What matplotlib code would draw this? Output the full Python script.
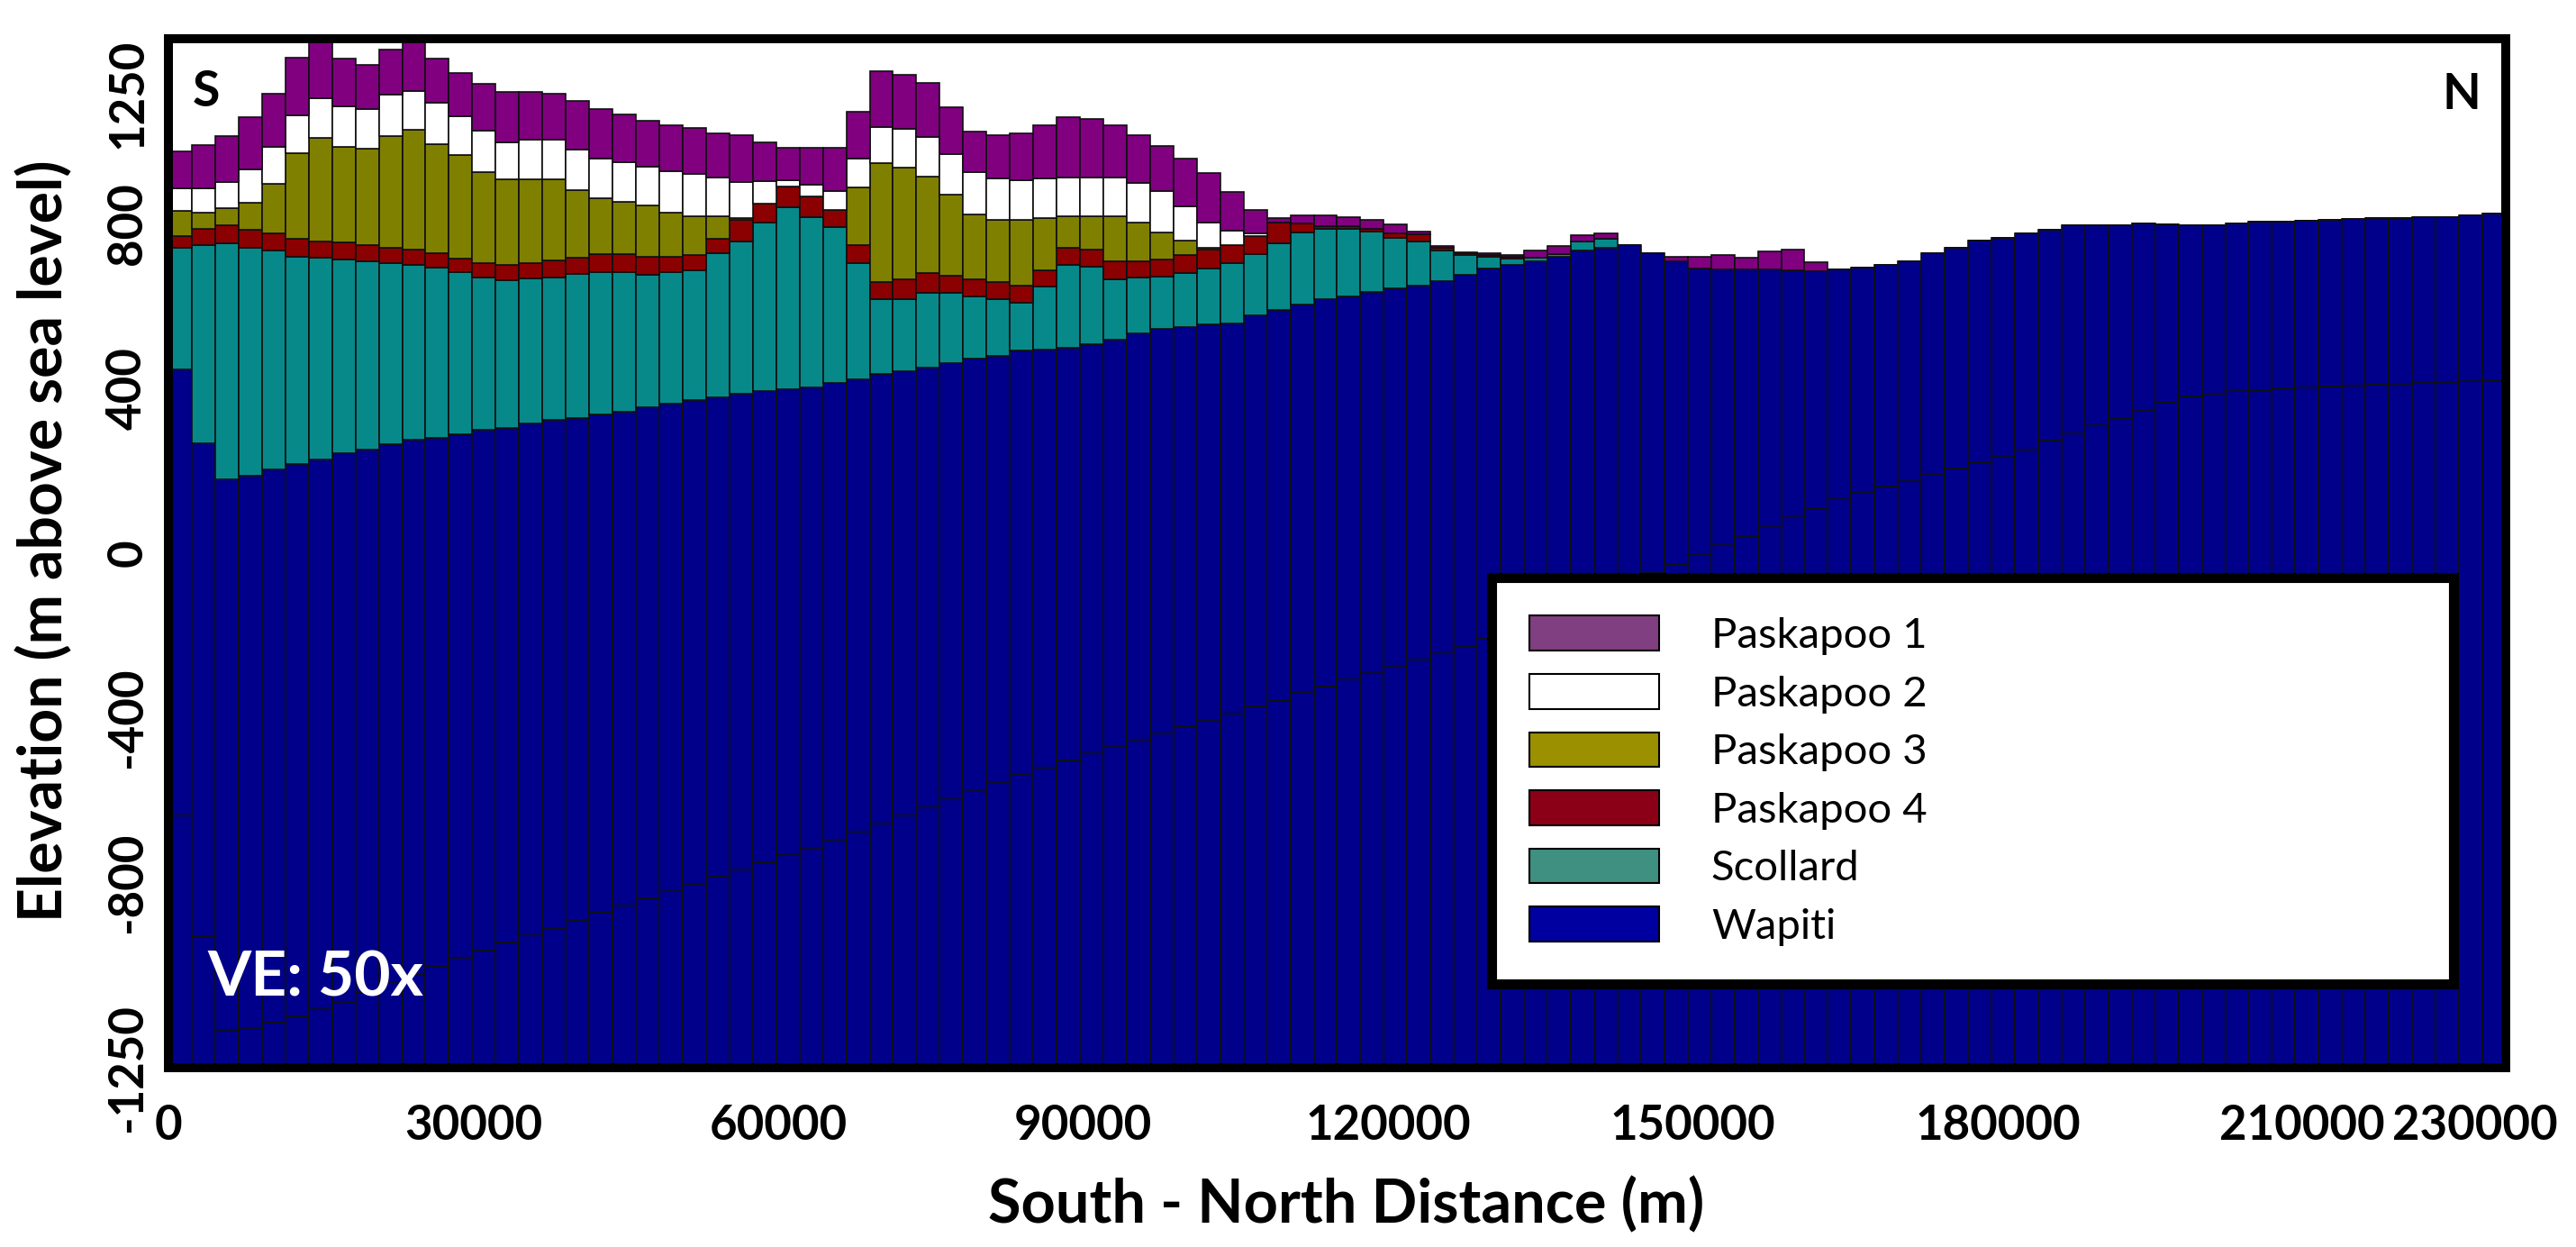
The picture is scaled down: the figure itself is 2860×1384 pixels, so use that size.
import matplotlib
matplotlib.use('Agg')
import matplotlib.pyplot as plt
from matplotlib.patches import Patch
from matplotlib.transforms import ScaledTranslation
import numpy as np

plt.rcParams['font.family'] = ['Lato', 'DejaVu Sans']

# one bar every 2300 m along the section, 100 bars
bar_width = 2300
distance = np.arange(100) * bar_width + bar_width / 2

# elevations (m asl) of each surface
wapiti_base = [-636, -930, -1160, -1155, -1140, -1125, -1108, -1090, -1068, -1045,
               -1025, -1004, -982, -965, -946, -928, -910, -892, -873, -855,
               -838, -820, -803, -785, -768, -750, -733, -715, -697, -677,
               -657, -637, -617, -598, -578, -559, -539, -520, -503, -487,
               -470, -454, -437, -421, -405, -389, -373, -356, -340, -324,
               -307, -291, -274, -258, -242, -225, -208, -186, -163, -140,
               -117, -95, -72, -49, -27, -4, 19, 42, 64, 87,
               110, 132, 146, 161, 176, 191, 206, 221, 236, 251,
               274, 292, 311, 329, 347, 365, 380, 388, 393, 397,
               400, 403, 405, 408, 410, 412, 415, 417, 419, 421]

wapiti_top = [446, 267, 179, 188, 203, 217, 227, 243, 252, 265,
              276, 281, 290, 300, 305, 316, 324, 329, 338, 344,
              355, 363, 373, 379, 388, 393, 398, 402, 413, 422,
              436, 442, 451, 461, 472, 480, 493, 495, 499, 508,
              519, 534, 545, 550, 556, 559, 577, 592, 605, 618,
              625, 636, 643, 651, 662, 676, 691, 700, 709, 720,
              735, 742, 748, 729, 709, 692, 689, 689, 689, 687,
              685, 689, 694, 700, 709, 729, 743, 759, 767, 778,
              787, 796, 797, 798, 802, 799, 798, 798, 802, 806,
              806, 808, 811, 813, 815, 815, 816, 817, 821, 826]

scollard_top = [742, 748, 753, 743, 735, 721, 718, 714, 709, 704,
                700, 694, 683, 670, 663, 667, 669, 678, 682, 682,
                676, 682, 687, 729, 758, 804, 841, 817, 793, 705,
                618, 618, 632, 632, 625, 618, 609, 647, 700, 696,
                665, 669, 672, 681, 691, 705, 727, 753, 780, 789,
                789, 782, 767, 757, 735, 725, 720, 716, 719, 727,
                757, 764, 748, 729, 709, 692, 689, 689, 689, 687,
                685, 689, 694, 700, 709, 729, 743, 759, 767, 778,
                787, 796, 797, 798, 802, 799, 798, 798, 802, 806,
                806, 808, 811, 813, 815, 815, 816, 817, 821, 826]

p4_top = [771, 789, 797, 786, 778, 764, 758, 755, 748, 742,
          738, 729, 716, 705, 700, 705, 711, 719, 726, 726,
          720, 721, 724, 764, 809, 849, 890, 866, 835, 748,
          659, 665, 680, 675, 665, 659, 651, 687, 742, 738,
          709, 709, 713, 724, 738, 748, 771, 804, 802, 795,
          794, 789, 778, 775, 742, 728, 724, 720, 719, 727,
          757, 764, 748, 729, 709, 692, 689, 689, 689, 687,
          685, 689, 694, 700, 709, 729, 743, 759, 767, 778,
          787, 796, 797, 798, 802, 799, 798, 798, 802, 806,
          806, 808, 811, 813, 815, 815, 816, 817, 821, 826]

p3_top = [833, 828, 839, 852, 897, 971, 1009, 987, 983, 1014,
          1028, 994, 967, 926, 908, 908, 908, 882, 863, 853,
          844, 828, 819, 819, 815, 849, 890, 866, 835, 888,
          947, 936, 916, 872, 824, 811, 809, 815, 819, 819,
          819, 804, 780, 760, 743, 748, 771, 804, 802, 795,
          794, 789, 778, 775, 742, 728, 724, 720, 719, 727,
          757, 764, 748, 729, 709, 692, 689, 689, 689, 687,
          685, 689, 694, 700, 709, 729, 743, 759, 767, 778,
          787, 796, 797, 798, 802, 799, 798, 798, 802, 806,
          806, 808, 811, 813, 815, 815, 816, 817, 821, 826]

p2_top = [887, 887, 901, 933, 988, 1065, 1105, 1086, 1080, 1115,
          1124, 1095, 1061, 1027, 998, 1004, 1004, 980, 959, 950,
          939, 928, 921, 912, 901, 904, 906, 895, 881, 958,
          1036, 1032, 1012, 969, 925, 910, 906, 910, 914, 914,
          914, 900, 881, 842, 804, 784, 778, 804, 802, 795,
          794, 789, 778, 775, 742, 728, 724, 720, 719, 727,
          757, 764, 748, 729, 709, 692, 689, 689, 689, 687,
          685, 689, 694, 700, 709, 729, 743, 759, 767, 778,
          787, 796, 797, 798, 802, 799, 798, 798, 802, 806,
          806, 808, 811, 813, 815, 815, 816, 817, 821, 826]

p1_top = [976, 991, 1014, 1060, 1116, 1205, 1270, 1201, 1186, 1224,
          1265, 1201, 1167, 1140, 1122, 1122, 1116, 1099, 1080, 1067,
          1050, 1039, 1033, 1020, 1016, 999, 985, 985, 985, 1072,
          1172, 1162, 1142, 1084, 1025, 1016, 1020, 1040, 1060, 1055,
          1040, 1016, 990, 958, 923, 879, 835, 815, 821, 821,
          816, 811, 800, 782, 747, 731, 729, 724, 736, 746,
          773, 777, 748, 729, 720, 720, 724, 718, 733, 738,
          708, 689, 694, 700, 709, 729, 743, 759, 767, 778,
          787, 796, 797, 798, 802, 799, 798, 798, 802, 806,
          806, 808, 811, 813, 815, 815, 816, 817, 821, 826]

layer_names = ['Paskapoo 1', 'Paskapoo 2', 'Paskapoo 3', 'Paskapoo 4', 'Scollard', 'Wapiti']
bar_colors = ['#800080', '#ffffff', '#808000', '#8b0000', '#07898a', '#00008b']
legend_colors = ['#7f3f80', '#ffffff', '#9a9000', '#8b0016', '#3f9080', '#0000a0']

y_ticks = [-1250, -800, -400, 0, 400, 800, 1250]
x_ticks = [0, 30000, 60000, 90000, 120000, 150000, 180000, 210000, 230000]
y_min, y_max = -1250, 1250

fig = plt.figure(figsize=(28.6, 13.84), dpi=100)
ax = fig.add_axes([0.0654, 0.1438, 0.9073, 0.8251])

# stack from the bottom of the plot upwards
surfaces = [y_min, wapiti_base, wapiti_top, scollard_top, p4_top, p3_top, p2_top, p1_top]
fills = ['#00008b'] + bar_colors[::-1]
for i in range(1, len(surfaces)):
    lower = np.array(surfaces[i - 1], dtype=float) * np.ones(len(distance))
    upper = np.array(surfaces[i], dtype=float)
    ax.bar(distance, upper - lower, bottom=lower, width=bar_width,
           color=fills[i - 1], edgecolor='#101010', linewidth=1.2)

ax.set_xlim(0, 230000)
ax.set_ylim(y_min, y_max)

for s in ax.spines.values():
    s.set_linewidth(7.2)
    s.set_color('black')

ax.set_yticks(y_ticks)
ax.set_yticklabels([str(t) for t in y_ticks], rotation=90, va='center',
                   fontsize=38, fontweight='bold')
ax.set_xticks(x_ticks)
ax.set_xticklabels([str(t) for t in x_ticks], fontsize=38, fontweight='bold')
ax.tick_params(axis='both', length=0)
ax.tick_params(axis='y', pad=15)
ax.tick_params(axis='x', pad=29)
ax.get_yticklabels()[-1].set_va('top')
last = ax.get_xticklabels()[-1]
last.set_transform(last.get_transform() + ScaledTranslation(-0.34, 0, fig.dpi_scale_trans))

ax.set_ylabel('Elevation (m above sea level)', fontsize=47.5, fontweight='bold', va='center')
ax.yaxis.set_label_coords(-0.0528, 0.512)
ax.set_xlabel('South - North Distance (m)', fontsize=48, fontweight='bold', va='center')
ax.xaxis.set_label_coords(0.504, -0.134)

ax.text(0.0162, 0.948, 'S', transform=ax.transAxes, fontsize=40, fontweight='bold',
        ha='center', va='center')
ax.text(0.981, 0.946, 'N', transform=ax.transAxes, fontsize=40, fontweight='bold',
        ha='center', va='center')
ax.text(0.0166, 0.070, 'VE: 50x', transform=ax.transAxes, fontsize=50, fontweight='bold',
        color='white', ha='left', va='baseline')

handles = [Patch(facecolor=c, edgecolor='black', linewidth=1.5) for c in legend_colors]
leg = ax.legend(handles, layer_names, loc='upper left',
                bbox_to_anchor=(0.566, 0.0, 0.4116, 0.4764), mode='expand',
                borderaxespad=0, fancybox=False, framealpha=1, edgecolor='black',
                fontsize=34, handlelength=3.04, handleheight=0.89, handletextpad=1.23,
                labelspacing=0.44, borderpad=0.9)
leg.get_frame().set_linewidth(8)

fig.savefig('out.png', dpi=100)
